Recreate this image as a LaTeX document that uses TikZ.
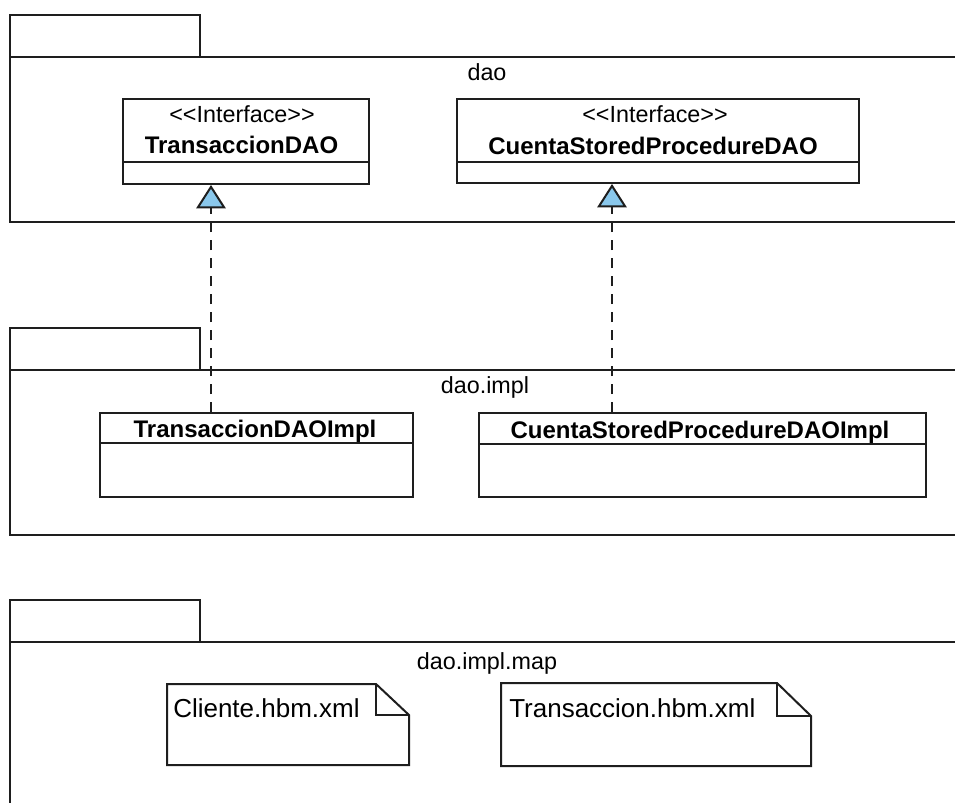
\documentclass[tikz,border=0pt]{standalone}
\usepackage{fontspec}
\setmainfont{Liberation Sans}
\usetikzlibrary{arrows.meta}
\definecolor{ink}{RGB}{30,30,30}
\definecolor{tipblue}{RGB}{138,200,236}
\begin{document}
\begin{tikzpicture}[x=0.75pt,y=-0.75pt,
  line/.style={draw=ink,line width=1.5pt},
  box/.style={line,fill=white,rectangle,inner sep=0pt,anchor=north west},
  pkgname/.style={font=\fontsize{17.5}{20}\selectfont,anchor=base,inner sep=0pt},
  stereo/.style={font=\fontsize{17.5}{20}\selectfont,anchor=base,inner sep=0pt},
  cname/.style={font=\bfseries\fontsize{18}{20}\selectfont,anchor=base,inner sep=0pt},
  notetext/.style={font=\fontsize{19.5}{22}\selectfont,anchor=base west,inner sep=0pt},
  realize/.style={line,dash pattern=on 7.5pt off 6pt,
    -{Triangle[length=17.5pt,width=22pt,fill=tipblue]}}
]
\useasboundingbox (0,0) rectangle (955,802);
\clip (0,0) rectangle (955,802);

% package dao
\draw[line] (10,15) rectangle (200,57);
\draw[line] (10,57) rectangle (990,222);
\node[pkgname] (pkgdao) at (487,81) {dao};

% package dao.impl
\draw[line] (10,328) rectangle (200,370);
\draw[line] (10,370) rectangle (990,535);
\node[pkgname] (pkgimpl) at (485,393) {dao.impl};

% package dao.impl.map
\draw[line] (10,600) rectangle (200,642);
\draw[line] (10,642) rectangle (990,850);
\node[pkgname] (pkgmap) at (487,669) {dao.impl.map};

% interfaces
\node[box,minimum width=184.5pt,minimum height=63.75pt] (tdao) at (122,98) {};
\draw[line] (122,162) -- (368,162);
\node[stereo] (tdaost) at (242,123) {<\kern0pt<Interface>\kern0pt>};
\node[cname] (tdaoname) at (241.5,154) {TransaccionDAO};

\node[box,minimum width=301.5pt,minimum height=63pt] (cdao) at (456,98) {};
\draw[line] (456,162) -- (858,162);
\node[stereo] (cdaost) at (655,123) {<\kern0pt<Interface>\kern0pt>};
\node[cname] (cdaoname) at (653,155) {CuentaStoredProcedureDAO};

% implementations
\node[box,minimum width=234.75pt,minimum height=63pt] (timpl) at (99,412) {};
\draw[line] (99,443) -- (412,443);
\node[cname] (timplname) at (255,437) {TransaccionDAOImpl};

\node[box,minimum width=335.25pt,minimum height=63pt] (cimpl) at (478,412) {};
\draw[line] (478,444) -- (925,444);
\node[cname] (cimplname) at (700,438) {CuentaStoredProcedureDAOImpl};

% realizations
\coordinate (ra) at (211,0);
\coordinate (rb) at (612,0);
\draw[realize] (timpl.north -| ra) -- (tdao.south -| ra);
\draw[realize] (cimpl.north -| rb) -- (cdao.south -| rb);

% mapping files
\draw[line,fill=white] (167,684) -- (376,684) -- (409,715) -- (409,765) -- (167,765) -- cycle;
\draw[line] (376,684) -- (376,715) -- (409,715);
\node[notetext] (ncli) at (173,717) {Cliente.hbm.xml};

\draw[line,fill=white] (501,683) -- (777,683) -- (811,716) -- (811,766) -- (501,766) -- cycle;
\draw[line] (777,683) -- (777,716) -- (811,716);
\node[notetext] (ntra) at (509,717) {Transaccion.hbm.xml};
\end{tikzpicture}
\end{document}
